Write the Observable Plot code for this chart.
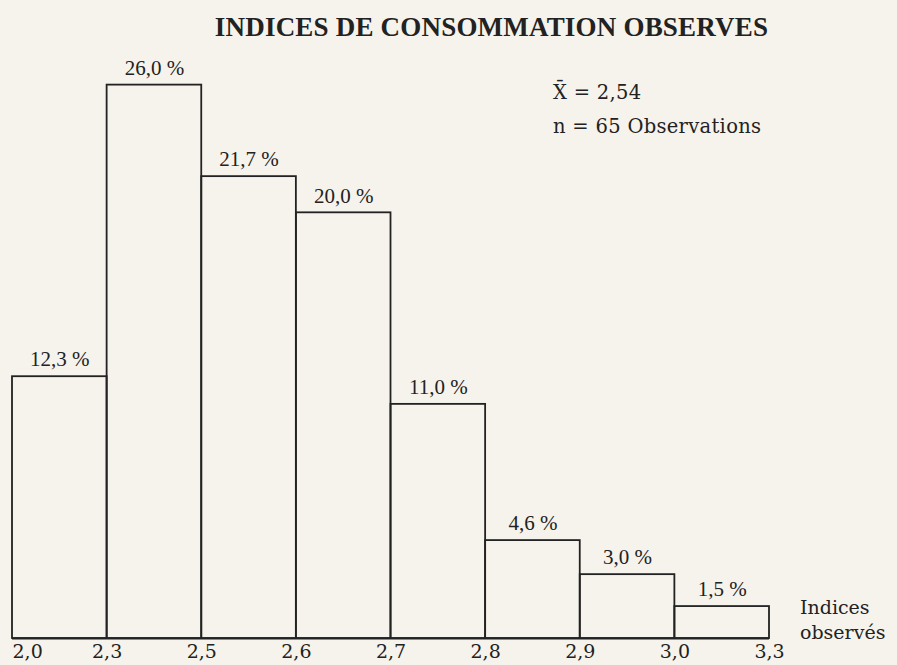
<!DOCTYPE html>
<html>
<head>
<meta charset="utf-8">
<script src="https://cdn.jsdelivr.net/npm/d3@7"></script>
<script src="https://cdn.jsdelivr.net/npm/@observablehq/plot@0.6"></script>
<style>
  html, body { margin: 0; padding: 0; background: #f6f3ec; }
  #wrap { position: relative; width: 897px; height: 665px; overflow: hidden; font-family: "Liberation Serif", "DejaVu Serif", serif; color: #222; }
  .abs { position: absolute; white-space: nowrap; line-height: 22px; }
  #title { left: 0; width: 983px; top: 13px; text-align: center; font-weight: bold; font-size: 27px; line-height: 28px; letter-spacing: 0.2px; }
  .note { font-family: "DejaVu Serif", serif; font-size: 19.5px; left: 553px; letter-spacing: 0.3px; }
  .xlab { font-family: "DejaVu Serif", serif; font-size: 19px; left: 800px; }
</style>
</head>
<body>
<div id="wrap">
  <div id="chart"></div>
  <div id="title" class="abs">INDICES DE CONSOMMATION OBSERVES</div>
  <div class="abs note" style="top:82px">X̄ = 2,54</div>
  <div class="abs note" style="top:116px">n = 65 Observations</div>
  <div class="abs xlab" style="top:596px">Indices</div>
  <div class="abs xlab" style="top:621px">observés</div>
</div>
<script>
// Class edges (tick labels) and observed percentages
const edges = ["2,0", "2,3", "2,5", "2,6", "2,7", "2,8", "2,9", "3,0", "3,3"];
const values = [12.3, 26.0, 21.7, 20.0, 11.0, 4.6, 3.0, 1.5];

const fmt = v => v.toFixed(1).replace(".", ",") + " %";
const bars = values.map((v, i) => ({i, v, label: fmt(v)}));

const tickOpts = {tickSize: 0, tickPadding: 6, fontSize: 19, fontFamily: "DejaVu Serif, serif", tickFormat: i => edges[i], label: null, fill: "#222"};

const chart = Plot.plot({
  width: 897,
  height: 665,
  marginLeft: 12,
  marginRight: 128,
  marginTop: 8,
  marginBottom: 27,
  style: {background: "transparent", fontFamily: "Liberation Serif, DejaVu Serif, serif", color: "#222"},
  x: {domain: [0, edges.length - 1]},
  y: {domain: [0, 29.6], axis: null},
  marks: [
    Plot.rect(bars, {x1: "i", x2: d => d.i + 1, y1: 0, y2: "v", fill: "none", stroke: "#222", strokeWidth: 1.8}),
    Plot.ruleY([0], {stroke: "#222", strokeWidth: 2}),
    Plot.text(bars, {x: d => d.i + 0.5, y: "v", text: "label", dy: -17, fontSize: 21, fill: "#222"}),
    Plot.axisX([0], {...tickOpts, textAnchor: "start"}),
    Plot.axisX(d3.range(1, edges.length), tickOpts)
  ]
});
document.getElementById("chart").appendChild(chart);
</script>
</body>
</html>
